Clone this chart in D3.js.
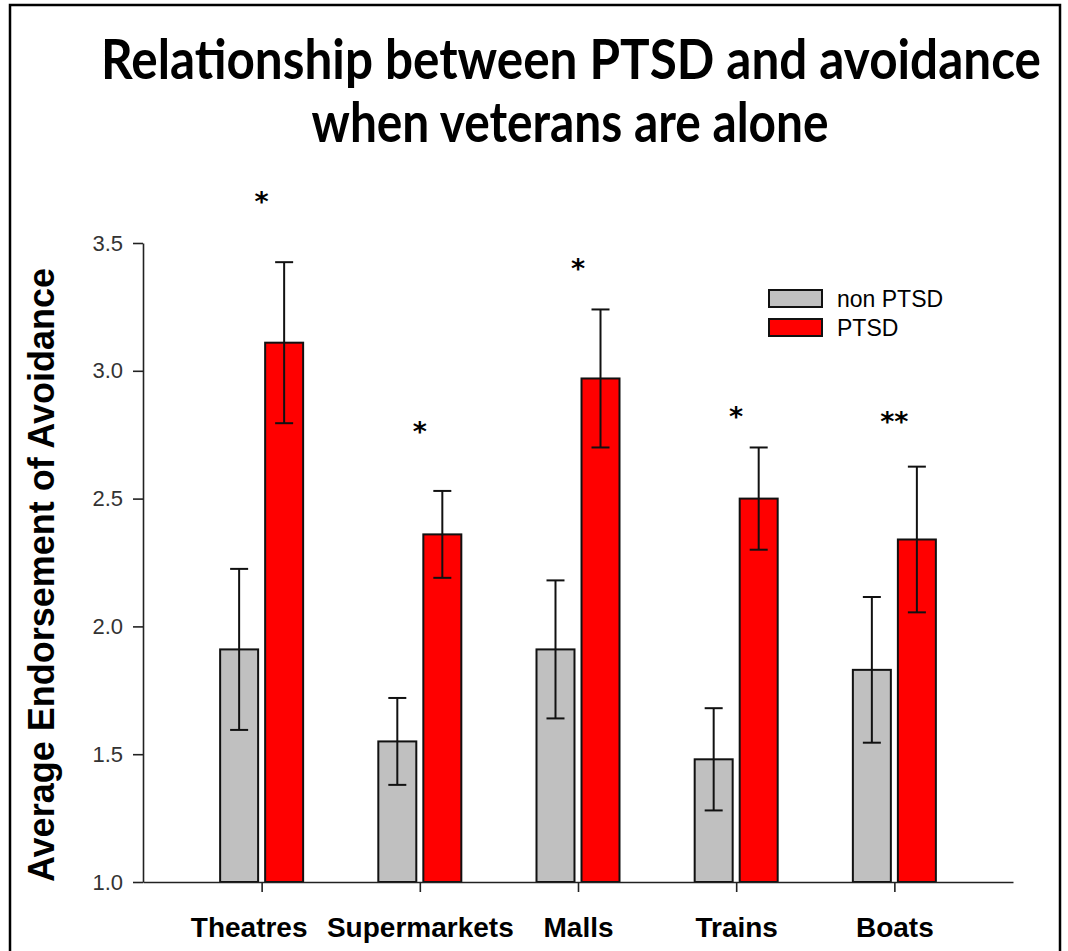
<!DOCTYPE html>
<html>
<head>
<meta charset="utf-8">
<script src="https://cdn.jsdelivr.net/npm/d3@7/dist/d3.min.js"></script>
<style>
  html, body { margin: 0; padding: 0; background: #fff; }
  svg { display: block; }
</style>
</head>
<body>
<svg id="chart" width="1068" height="951"></svg>
<script>
// Places where avoidance was rated
const categories = ["Theatres", "Supermarkets", "Malls", "Trains", "Boats"];
const seriesNames = ["non PTSD", "PTSD"];

// Mean avoidance endorsement per place
const nonPtsdMeans = [1.91, 1.55, 1.91, 1.48, 1.83];
const ptsdMeans = [3.11, 2.36, 2.97, 2.50, 2.34];

// Standard errors (error bar half-lengths)
const nonPtsdErrors = [0.315, 0.17, 0.27, 0.20, 0.285];
const ptsdErrors = [0.315, 0.17, 0.27, 0.20, 0.285];

// Significance markers and the height they sit at
const sigMarks = ["*", "*", "*", "*", "**"];
const sigLevels = [3.69, 2.79, 3.43, 2.85, 2.83];

// Y axis ticks
const yTicks = [1.0, 1.5, 2.0, 2.5, 3.0, 3.5];

const seriesColors = ["#c0c0c0", "#ff0000"];

const svg = d3.select("#chart");

// outer frame
svg.append("rect")
  .attr("x", 10).attr("y", 5)
  .attr("width", 1050).attr("height", 970)
  .attr("fill", "none").attr("stroke", "#000").attr("stroke-width", 2.5);

// title: two centred lines, squeezed horizontally to a condensed look
const titleLines = [
  { text: "Relationship between PTSD and avoidance", x: 571, y: 79, len: 940 },
  { text: "when veterans are alone", x: 570, y: 142, len: 517 }
];
svg.selectAll("text.title").data(titleLines).enter().append("text")
  .attr("class", "title")
  .attr("text-anchor", "middle")
  .style("font-family", "Lato, 'Open Sans', sans-serif")
  .style("font-weight", "700")
  .style("font-size", "55px")
  .attr("fill", "#000")
  .text(d => d.text)
  .each(function (d) {
    const natural = this.getComputedTextLength();
    const sx = Math.min(1, d.len / natural);
    d3.select(this).attr("transform", `translate(${d.x},${d.y}) scale(${sx},1)`);
  });

// scales
const y = d3.scaleLinear().domain([1.0, 3.5]).range([882, 243]);
const x0 = d3.scalePoint().domain(categories).range([143, 1013]).padding(0.75);
const x1 = d3.scaleBand().domain(seriesNames).range([-41.5, 41.5]).paddingInner(0.156).paddingOuter(0);

// y axis
const yAxis = svg.append("g")
  .attr("transform", "translate(143,0)")
  .call(d3.axisLeft(y).tickValues(yTicks).tickFormat(d3.format(".1f")).tickSize(10).tickSizeOuter(0).tickPadding(10));
yAxis.select(".domain").attr("stroke", "#222").attr("stroke-width", 1.6);
yAxis.selectAll(".tick line").attr("stroke", "#222").attr("stroke-width", 1.6);
yAxis.selectAll(".tick text")
  .style("font-family", "'Liberation Sans', Arial, sans-serif")
  .style("font-size", "22px")
  .attr("fill", "#333");

// y axis title
svg.append("text")
  .attr("transform", "translate(54,575) rotate(-90)")
  .attr("text-anchor", "middle")
  .style("font-family", "'Liberation Sans', Arial, sans-serif")
  .style("font-weight", "700")
  .style("font-size", "36px")
  .attr("fill", "#000")
  .text("Average Endorsement of Avoidance");

// bars
const rows = categories.map((c, i) => ({
  category: c,
  values: [
    { series: seriesNames[0], mean: nonPtsdMeans[i], err: nonPtsdErrors[i], color: seriesColors[0] },
    { series: seriesNames[1], mean: ptsdMeans[i], err: ptsdErrors[i], color: seriesColors[1] }
  ]
}));

const groups = svg.selectAll("g.group").data(rows).enter().append("g")
  .attr("class", "group")
  .attr("transform", d => `translate(${x0(d.category)},0)`);

groups.selectAll("rect").data(d => d.values).enter().append("rect")
  .attr("x", d => x1(d.series))
  .attr("width", x1.bandwidth())
  .attr("y", d => y(d.mean))
  .attr("height", d => y(1.0) - y(d.mean))
  .attr("fill", d => d.color)
  .attr("stroke", "#111")
  .attr("stroke-width", 2);

// error bars
const capHalf = 9;
const eb = groups.selectAll("g.err").data(d => d.values).enter().append("g")
  .attr("class", "err")
  .attr("transform", d => `translate(${x1(d.series) + x1.bandwidth() / 2},0)`);
eb.append("line")
  .attr("x1", 0).attr("x2", 0)
  .attr("y1", d => y(d.mean + d.err)).attr("y2", d => y(d.mean - d.err))
  .attr("stroke", "#111").attr("stroke-width", 2);
eb.append("line")
  .attr("x1", -capHalf).attr("x2", capHalf)
  .attr("y1", d => y(d.mean + d.err)).attr("y2", d => y(d.mean + d.err))
  .attr("stroke", "#111").attr("stroke-width", 2);
eb.append("line")
  .attr("x1", -capHalf).attr("x2", capHalf)
  .attr("y1", d => y(d.mean - d.err)).attr("y2", d => y(d.mean - d.err))
  .attr("stroke", "#111").attr("stroke-width", 2);

// x axis
const xAxis = svg.append("g")
  .attr("transform", `translate(0,${y(1.0)})`)
  .call(d3.axisBottom(x0).tickSize(10).tickSizeOuter(0));
xAxis.select(".domain").attr("stroke", "#222").attr("stroke-width", 1.6);
xAxis.selectAll(".tick line").attr("stroke", "#222").attr("stroke-width", 1.6);
xAxis.selectAll(".tick text")
  .attr("y", 55).attr("dy", 0)
  .attr("dx", (d, i) => i === 0 ? -13 : 0)
  .style("font-family", "'Liberation Sans', Arial, sans-serif")
  .style("font-weight", "700")
  .style("font-size", "28px")
  .attr("fill", "#000");

// significance asterisks
svg.selectAll("text.sig").data(categories).enter().append("text")
  .attr("class", "sig")
  .attr("x", d => x0(d))
  .attr("y", (d, i) => y(sigLevels[i]) + 17)
  .attr("text-anchor", "middle")
  .style("font-family", "'DejaVu Sans', sans-serif")
  .style("font-weight", "700")
  .style("font-size", "27px")
  .attr("fill", "#000")
  .text((d, i) => sigMarks[i]);

// legend
const legend = svg.append("g").attr("transform", "translate(769,290)");
const li = legend.selectAll("g").data(seriesNames).enter().append("g")
  .attr("transform", (d, i) => `translate(0,${i * 29})`);
li.append("rect")
  .attr("width", 53).attr("height", 17)
  .attr("fill", (d, i) => seriesColors[i])
  .attr("stroke", "#111").attr("stroke-width", 2);
li.append("text")
  .attr("x", 68).attr("y", 9)
  .attr("dy", "0.36em")
  .style("font-family", "'Liberation Sans', Arial, sans-serif")
  .style("font-size", "23px")
  .attr("fill", "#000")
  .text(d => d);
</script>
</body>
</html>
